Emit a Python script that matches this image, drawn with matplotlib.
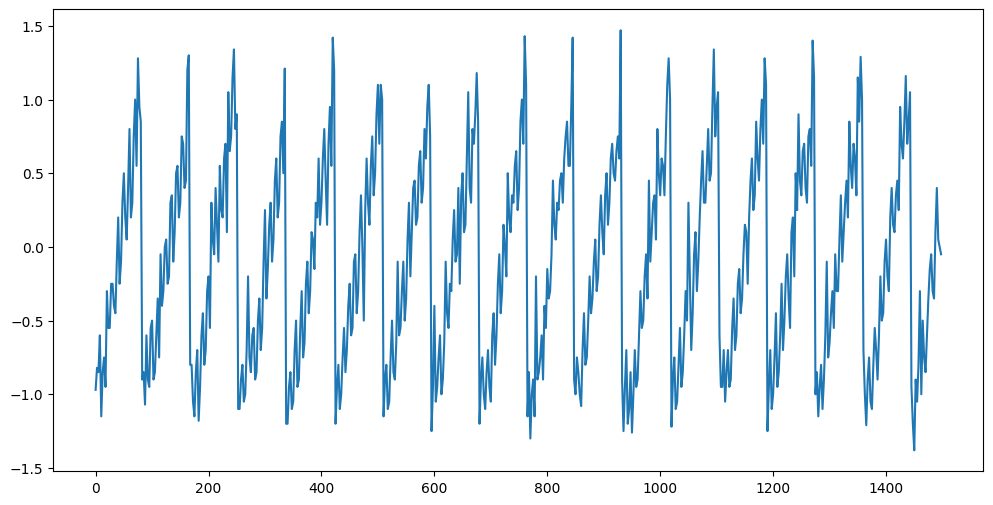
import numpy as np
import matplotlib
matplotlib.use("Agg")
import matplotlib.pyplot as plt

# readings are taken every 2.5 samples: "on" at 0, 5, 10 ... and "off" at 2.5, 7.5 ...
step = 2.5

# one list per sawtooth cycle, value at the whole 5-sample positions
cycles_on = [
    [-0.97, -0.85, -1.15, -0.75, -0.3, -0.55, -0.25, -0.45, 0.2, -0.1, 0.5, 0.05, 0.8, 0.3, 1.0, 1.28, 0.85],
    [-0.85, -0.6, -0.95, -0.5, -0.85, -0.35, -0.05, -0.3, 0.05, -0.2, 0.35, 0.1, 0.55, 0.3, 0.7, 0.45, 1.3],
    [-0.8, -1.15, -0.7, -0.95, -0.45, -0.7, -0.2, 0.3, -0.05, 0.15, 0.55, 0.2, 0.7, 1.05, 0.75, 1.34, 0.9],
    [-1.1, -0.8, -1.0, -0.2, -0.85, -0.55, -0.85, -0.35, -0.55, 0.25, -0.15, 0.3, 0.05, 0.6, 0.3, 0.85, 1.21],
    [-1.2, -0.85, -1.05, -0.5, -0.9, -0.3, -0.65, -0.1, -0.3, 0.05, 0.3, 0.6, 0.3, 0.8, 0.15, 0.95, 1.42],
    [-1.2, -0.8, -1.0, -0.55, -0.7, -0.25, -0.55, -0.05, -0.3, 0.35, -0.5, 0.6, 0.15, 0.75, 0.5, 1.1, 1.1],
    [-1.15, -0.8, -1.05, -0.5, -0.9, -0.1, -0.55, -0.1, -0.35, 0.3, 0.1, 0.45, 0.2, 0.65, 0.4, 0.6, 1.1],
    [-1.25, -0.4, -0.95, -0.6, -0.9, -0.1, -0.55, -0.3, 0.25, -0.05, -0.25, 0.5, 0.15, 1.05, 0.3, 0.7, 1.18],
    [-1.2, -0.75, -1.1, -0.7, -1.05, -0.45, -0.6, -0.05, -0.3, 0.0, 0.5, 0.1, 0.3, 0.65, 0.4, 1.0, 1.43],
    [-1.15, -1.3, -0.9, -0.2, -0.85, -0.6, -0.4, -0.15, -0.3, 0.45, 0.05, 0.25, 0.5, 0.6, 0.85, 0.55, 1.42],
    [-1.0, -0.85, -1.08, -0.45, -0.75, -0.2, -0.35, 0.05, -0.2, 0.35, -0.05, 0.5, 0.3, 0.7, 0.45, 0.75, 1.47],
    [-1.25, -0.7, -1.1, -1.26, -0.7, -0.9, -0.3, -0.5, -0.05, 0.45, 0.1, 0.35, 0.8, 0.35, 0.55, 0.75, 1.28],
    [-1.22, -0.75, -1.05, -0.55, -0.85, -0.3, 0.3, -0.7, -0.05, -0.3, 0.2, 0.65, 0.3, 0.8, 0.5, 1.34, 0.95],
    [-0.6, -0.95, -1.05, -0.7, -0.9, -0.35, -0.6, -0.15, -0.35, 0.15, -0.25, 0.45, 0.25, 0.85, 0.45, 1.0, 1.28],
    [-1.25, -0.7, -1.0, -0.45, -0.85, -0.25, -0.5, -0.05, -0.55, 0.2, 0.5, 0.9, 0.35, 0.7, 0.3, 0.8, 1.4],
    [-1.0, -1.15, -0.8, -0.9, -0.1, -0.65, -0.3, -0.05, -0.3, 0.35, 0.1, 0.45, 0.85, 0.4, 0.6, 1.15, 1.29],
    [-0.7, -1.21, -0.75, -1.1, -0.55, -0.9, -0.2, -0.45, 0.05, -0.3, 0.4, 0.1, 0.45, 0.95, 0.6, 1.16, 0.85],
    [-0.95, -1.38, -1.05, -0.3, -0.5, -0.85, -0.35, -0.05, -0.35, 0.4, 0.0],
]

# same cycles, value half way between (the other side of the noisy band)
cycles_off = [
    [-0.82, -0.6, -0.85, -0.95, -0.55, -0.25, -0.4, -0.1, -0.25, 0.3, 0.2, 0.4, 0.2, 0.75, 0.55, 0.95, -0.9],
    [-1.07, -0.9, -0.55, -0.9, -0.6, -0.75, -0.4, 0.0, -0.25, 0.3, -0.1, 0.5, 0.2, 0.75, 0.4, 1.2, -0.8],
    [-1.05, -0.85, -1.18, -0.6, -0.8, -0.3, -0.55, 0.05, 0.4, -0.1, 0.25, 0.6, 0.1, 0.65, 1.15, 0.8, -1.1],
    [-0.9, -1.05, -0.7, -0.75, -0.6, -0.9, -0.5, -0.7, -0.1, -0.35, 0.15, -0.1, 0.45, 0.2, 0.75, 0.5, -1.2],
    [-0.95, -1.1, -0.7, -0.95, -0.55, -0.75, -0.25, -0.45, 0.1, -0.15, 0.2, 0.15, 0.6, 0.45, 0.7, 0.55, 1.2],
    [-0.95, -1.1, -0.75, -0.85, -0.4, -0.6, -0.1, -0.45, 0.1, 0.0, 0.25, 0.3, 0.55, 0.35, 0.9, 0.7, 1.0],
    [-0.9, -1.1, -0.75, -0.85, -0.65, -0.6, -0.3, -0.5, 0.05, -0.2, 0.4, 0.15, 0.55, 0.3, 0.8, 0.95, 0.75],
    [-0.95, -1.05, -0.75, -1.0, -0.65, -0.45, -0.25, 0.05, -0.1, 0.4, 0.35, 0.1, 0.6, 0.4, 0.8, 0.9, 0.85],
    [-0.9, -1.0, -0.85, -0.95, -0.6, -0.8, -0.25, -0.45, 0.15, -0.2, 0.2, 0.35, 0.55, 0.25, 0.85, 0.7, 1.1],
    [-0.85, -1.0, -1.15, -0.9, -0.75, -0.9, -0.55, -0.35, -0.05, 0.15, 0.3, 0.45, 0.3, 0.75, 0.55, 0.95, -0.9],
    [-0.75, -1.0, -0.7, -0.8, -0.5, -0.45, -0.1, -0.3, 0.15, 0.1, 0.35, 0.15, 0.6, 0.5, 0.65, 0.6, -0.9],
    [-0.95, -1.2, -0.85, -1.0, -0.95, -0.6, -0.55, -0.2, -0.35, -0.1, 0.3, 0.05, 0.5, 0.6, 0.35, 1.1, 1.0],
    [-0.9, -1.1, -0.8, -0.95, -0.6, -0.5, -0.2, -0.45, 0.1, -0.1, 0.45, 0.3, 0.55, 0.45, 0.95, 0.75, 1.05],
    [-0.95, -0.7, -0.85, -0.95, -0.55, -0.7, -0.25, -0.45, -0.05, 0.1, 0.2, 0.6, 0.35, 0.6, 0.8, 0.7, 1.1],
    [-0.95, -1.1, -0.75, -0.95, -0.6, -0.7, -0.2, -0.35, 0.1, -0.2, 0.25, 0.45, 0.65, 0.4, 0.75, 0.55, 1.15],
    [-0.85, -0.95, -1.1, -0.6, -0.75, -0.45, -0.55, -0.3, 0.05, -0.1, 0.3, 0.2, 0.55, 0.7, 0.35, 0.85, 1.0],
    [-1.0, -0.9, -1.05, -0.8, -0.7, -0.6, -0.5, -0.1, -0.2, 0.2, 0.15, 0.35, 0.25, 0.7, 0.85, 0.7, 1.05],
    [-1.2, -0.9, -0.8, -1.0, -0.75, -0.6, -0.15, -0.3, 0.1, 0.05, -0.05],
]

on = np.concatenate([np.array(c) for c in cycles_on])
off = np.concatenate([np.array(c) for c in cycles_off])
values = np.column_stack([on, off]).ravel()
samples = np.arange(len(values)) * step

fig, ax = plt.subplots(figsize=(12, 6))
ax.plot(samples, values)
plt.savefig("out.png", dpi=100, bbox_inches="tight")
